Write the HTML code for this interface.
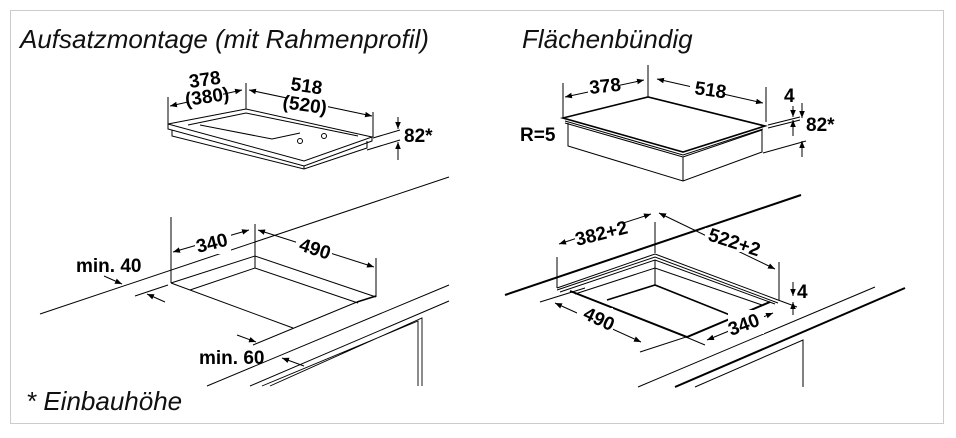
<!DOCTYPE html>
<html><head><meta charset="utf-8"><style>
html,body{margin:0;padding:0;background:#fff}
svg{display:block}
.t{font-family:"Liberation Sans Narrow","Liberation Sans",sans-serif;font-weight:bold;font-size:19px;fill:#000}
.h{font-family:"Liberation Sans",sans-serif;font-style:italic;font-size:26px;fill:#111}
</style></head><body>
<svg width="956" height="438" viewBox="0 0 956 438" xmlns="http://www.w3.org/2000/svg">
<defs><marker id="a" viewBox="0 0 10 10" refX="10" refY="5" markerWidth="7" markerHeight="7" orient="auto-start-reverse" markerUnits="userSpaceOnUse"><path d="M0,1 L10,5 L0,9z" fill="#000"/></marker></defs>
<rect x="10.5" y="10.5" width="933" height="413" fill="none" stroke="#ccc" stroke-width="1"/>
<text class="h" x="20" y="48">Aufsatzmontage (mit Rahmenprofil)</text>
<text class="h" x="522" y="48">Flächenbündig</text>
<text class="h" x="26" y="410">* Einbauhöhe</text>
<g stroke="#000" stroke-width="1" fill="none">
<path d="M168,97V127 M246,83V109 M373,112V137"/>
<path d="M168,124 L246,109 L372,137 L304,161 Z"/>
<path d="M168,124 V129 L304,166 L372,141 V137"/>
<path d="M172,130 V136 L304,169 L367,148 V141"/>
<path d="M304,166 V169"/>
<path d="M188,125 L246,113 L358,136"/>
<path d="M200,125 L272,139 L300,133"/>
<circle cx="300" cy="141" r="2.5"/><circle cx="324" cy="136" r="2.5"/>
<path d="M170,106 L242,90" marker-start="url(#a)" marker-end="url(#a)"/>
<path d="M249,90 L372,116" marker-start="url(#a)" marker-end="url(#a)"/>
<path d="M373,138 L400,130 M367,150 L400,140"/>
<path d="M398,117 V129" marker-end="url(#a)"/><path d="M398,160 V142" marker-end="url(#a)"/>
<path d="M563,83V118 M648,65V97 M766,87V122"/>
<path d="M563,118 L648,97 L765,126 L683,152 Z" stroke-width="1.6"/>
<path d="M565,121 L683,155 L763,129"/>
<path d="M565,123 L683,157 L762,130"/>
<path d="M568,123 V146 L683,181 L762,152 V130 M683,157 V181"/>
<path d="M565,97 L644,80" marker-start="url(#a)" marker-end="url(#a)"/>
<path d="M657,79 L763,103" marker-start="url(#a)" marker-end="url(#a)"/>
<path d="M768,125 L800,117 M768,128 L800,120 M763,153 L806,141"/>
<path d="M793,106 V117" marker-end="url(#a)"/><path d="M793,136 V120" marker-end="url(#a)"/>
<path d="M802,103 V118" marker-end="url(#a)"/><path d="M802,157 V141" marker-end="url(#a)"/>
<path d="M40,314 L449,177"/>
<path d="M207,386 L449,285 M250,386 L449,301"/>
<path d="M262,386 L418,321 V386 M270,386 L422,318 V386" stroke-width="0.9"/>
<path d="M171,217 V283 M255,224 V256 M376,258 V297"/>
<path d="M171,283 L255,256 L376,297"/>
<path d="M171,283 L293,328 M253,345 L357,302"/>
<path d="M357,302 L376,296" stroke-width="1.6"/>
<path d="M190,290 L255,268 L358,303 M255,256 V268"/>
<path d="M173,252 L249,230" marker-start="url(#a)" marker-end="url(#a)"/>
<path d="M258,230 L374,267" marker-start="url(#a)" marker-end="url(#a)"/>
<path d="M135,296 L168,285"/>
<path d="M104,276 L122,284" marker-end="url(#a)"/>
<path d="M165,302 L147,294" marker-end="url(#a)"/>
<path d="M237,335 L256,342" marker-end="url(#a)"/>
<path d="M304,366 L282,358" marker-end="url(#a)"/>
<path d="M505,295 L801,195" stroke-width="2"/>
<path d="M638,387 L875,287 M695,387 L803,340 V387"/>
<path d="M675,387 L905,288" stroke-width="2"/>
<path d="M557,257 V288 M655,222 V253 M779,262 V300"/>
<path d="M557,288 L655,254 L778,300"/>
<path d="M557,290 L655,257 L778,303 M560,292 L655,260 L775,304"/>
<path d="M570,291 L687,337 L770,302" stroke-width="2"/>
<path d="M575,294 L655,268 L762,305 M655,260 V286"/>
<path d="M607,300 L655,285 L730,315" stroke-width="1.6"/>
<path d="M540,302 L585,288 M640,352 L686,337 L705,345 M778,300 L797,307"/>
<path d="M559,244 L651,214" marker-start="url(#a)" marker-end="url(#a)"/>
<path d="M659,213 L775,269" marker-start="url(#a)" marker-end="url(#a)"/>
<path d="M555,303 L641,342" marker-start="url(#a)" marker-end="url(#a)"/>
<path d="M707,340 L773,313" marker-start="url(#a)" marker-end="url(#a)"/>
<path d="M793,282 V296" marker-end="url(#a)"/><path d="M793,315 V302" marker-end="url(#a)"/>
</g>
<g fill="#fff">
<rect x="187" y="66" width="36" height="40"/><rect x="286" y="75" width="42" height="38"/>
<rect x="588" y="76" width="32" height="20"/><rect x="690" y="78" width="34" height="22"/>
<rect x="195" y="232" width="36" height="22"/><rect x="296" y="236" width="36" height="22"/>
<rect x="575" y="223" width="50" height="24"/><rect x="705" y="228" width="58" height="24"/>
<rect x="577" y="308" width="36" height="24"/><rect x="728" y="310" width="36" height="24"/>
</g>
<text class="t" transform="translate(190,88) rotate(-8)">378</text>
<text class="t" transform="translate(186,106) rotate(-8)">(380)</text>
<text class="t" transform="translate(290,90) rotate(8)">518</text>
<text class="t" transform="translate(282,108) rotate(8)">(520)</text>
<text class="t" x="404" y="142">82*</text>
<text class="t" x="520" y="141">R=5</text>
<text class="t" transform="translate(590,94) rotate(-6)">378</text>
<text class="t" transform="translate(694,94) rotate(8)">518</text>
<text class="t" x="784" y="102">4</text>
<text class="t" x="806" y="131">82*</text>
<text class="t" x="76" y="272">min. 40</text>
<text class="t" transform="translate(198,253) rotate(-14)">340</text>
<text class="t" transform="translate(298,250) rotate(18)">490</text>
<text class="t" x="199" y="364">min. 60</text>
<text class="t" transform="translate(577,246) rotate(-14)">382+2</text>
<text class="t" transform="translate(707,240) rotate(18)">522+2</text>
<text class="t" transform="translate(582,318) rotate(25)">490</text>
<text class="t" transform="translate(731,336) rotate(-20)">340</text>
<text class="t" x="797" y="298">4</text>
</svg>
</body></html>
